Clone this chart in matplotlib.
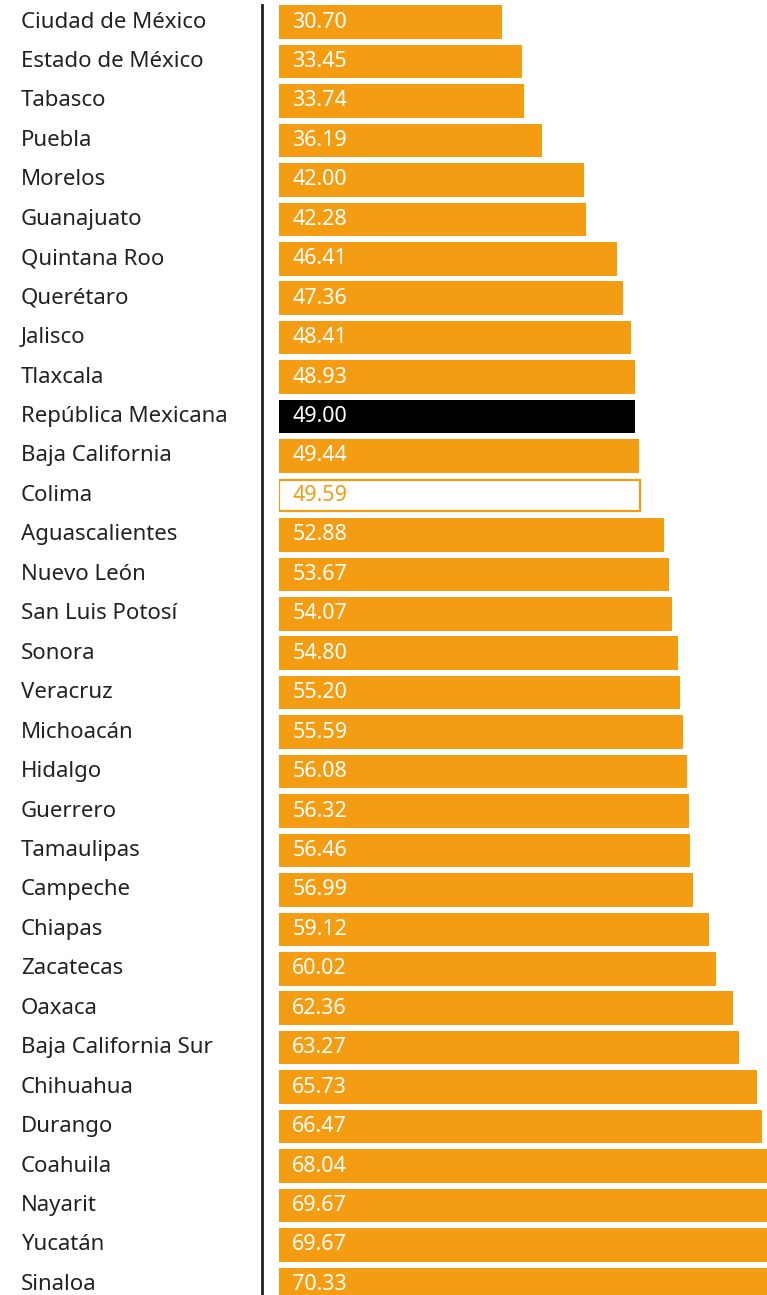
import matplotlib
matplotlib.use("Agg")
import matplotlib.pyplot as plt
import matplotlib.transforms as mtransforms
from matplotlib.lines import Line2D

plt.rcParams['font.family'] = ['Noto Sans', 'DejaVu Sans']

estados = ["Ciudad de México", "Estado de México", "Tabasco", "Puebla", "Morelos",
           "Guanajuato", "Quintana Roo", "Querétaro", "Jalisco", "Tlaxcala",
           "República Mexicana", "Baja California", "Colima", "Aguascalientes",
           "Nuevo León", "San Luis Potosí", "Sonora", "Veracruz", "Michoacán",
           "Hidalgo", "Guerrero", "Tamaulipas", "Campeche", "Chiapas", "Zacatecas",
           "Oaxaca", "Baja California Sur", "Chihuahua", "Durango", "Coahuila",
           "Nayarit", "Yucatán", "Sinaloa"]
valores = [30.70, 33.45, 33.74, 36.19, 42.00, 42.28, 46.41, 47.36, 48.41, 48.93,
           49.00, 49.44, 49.59, 52.88, 53.67, 54.07, 54.80, 55.20, 55.59, 56.08,
           56.32, 56.46, 56.99, 59.12, 60.02, 62.36, 63.27, 65.73, 66.47, 68.04,
           69.67, 69.67, 70.33]

naranja = '#F49D12'

fig = plt.figure(figsize=(7.67, 12.95), dpi=100)
ax = fig.add_axes([279 / 767, 0, 1 - 279 / 767, 1])

for i, (e, v) in enumerate(zip(estados, valores)):
    if e == "República Mexicana":
        ax.barh(i, v, height=0.85, color='black')
        tc = 'white'
    elif e == "Colima":
        ax.barh(i, v, height=0.78, color='white', edgecolor=naranja, linewidth=1.6)
        tc = naranja
    else:
        ax.barh(i, v, height=0.85, color=naranja)
        tc = 'white'
    ax.annotate(f"{v:.2f}", (0, i), xytext=(9.5, 0), textcoords='offset points',
                va='center', ha='left', color=tc, fontsize=15.5)

ax.set_xlim(0, 67.1)
ax.set_ylim(32.27, -0.56)
ax.axis('off')

trans = mtransforms.blended_transform_factory(fig.transFigure, ax.transData)
for i, e in enumerate(estados):
    ax.text(21 / 767, i, e, transform=trans, ha='left', va='center',
            fontsize=16, color='#222222', clip_on=False)

fig.add_artist(Line2D([262 / 767, 262 / 767], [0, 1 - 5 / 1295],
                      transform=fig.transFigure, color='#222222', linewidth=2))

fig.savefig("out.png", dpi=100)
